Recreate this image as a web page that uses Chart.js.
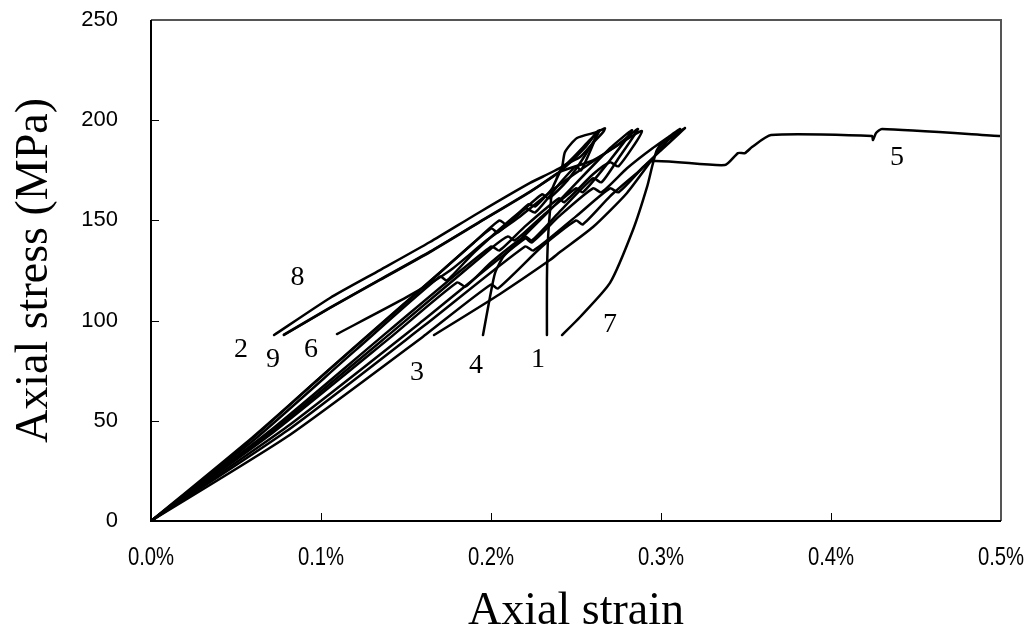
<!DOCTYPE html>
<html>
<head>
<meta charset="utf-8">
<script src="https://cdn.jsdelivr.net/npm/chart.js@4.4.1/dist/chart.umd.min.js"></script>
<style>
  html, body { margin: 0; padding: 0; background: #fff; }
  #wrap { width: 1033px; height: 636px; position: relative; }
</style>
</head>
<body>
<div id="wrap"><canvas id="chart"></canvas></div>
<script>
// axial strain (%) / axial stress (MPa) per specimen, loading branch then post-peak branch
const s1Strain = [0, 0.05, 0.10, 0.15, 0.19, 0.205, 0.209, 0.222, 0.226, 0.236, 0.2418, 0.2524, 0.26, 0.266, 0.267, 0.2624, 0.2506, 0.2435, 0.2418, 0.2365, 0.2353, 0.2335, 0.2329, 0.2329];
const s1Stress = [0, 34, 72, 109, 139, 150, 148, 158, 157, 166, 176.6, 181.6, 188.6, 194.1, 196, 194.1, 191.1, 184.1, 176.6, 166.7, 160.2, 140.2, 120.3, 92.8];

const s2Strain = [0, 0.06, 0.12, 0.17, 0.174, 0.19, 0.22, 0.226, 0.24, 0.25, 0.253, 0.263, 0.255, 0.2406, 0.223, 0.1935, 0.1641, 0.1347, 0.1053, 0.0782];
const s2Stress = [0, 40, 85, 122, 120, 134, 156, 154, 168, 177, 175, 194.6, 186, 174.4, 164.4, 149.4, 134.4, 120.5, 106.5, 93];

const s3Strain = [0, 0.08, 0.16, 0.22, 0.225, 0.25, 0.27, 0.275, 0.29, 0.3, 0.3141, 0.304, 0.2976, 0.28, 0.26, 0.2406, 0.2347, 0.2053, 0.1665];
const s3Stress = [0, 45, 97, 137, 135, 152, 166, 164, 177, 185, 196.1, 190, 183.6, 163.7, 146.7, 134.2, 130.2, 113.3, 92.8];

const s4Strain = [0, 0.07, 0.14, 0.2, 0.21, 0.214, 0.23, 0.25, 0.254, 0.27, 0.283, 0.27, 0.2406, 0.2229, 0.2153, 0.2071, 0.2024, 0.1994, 0.1953];
const s4Stress = [0, 44, 93, 136, 142, 140, 152, 166, 164, 180, 195, 186, 160.2, 145.2, 138.7, 131.7, 123.8, 111.8, 92.8];

const s5Strain = [0, 0.08, 0.16, 0.2, 0.204, 0.23, 0.25, 0.254, 0.27, 0.285, 0.2947, 0.3376, 0.3453, 0.3494, 0.3535, 0.3647, 0.4241, 0.4247, 0.4265, 0.43, 0.5];
const s5Stress = [0, 42, 92, 118, 116, 137, 150, 148, 162, 173, 179.6, 177.6, 183.6, 183.6, 186.6, 192.6, 192.1, 190.1, 193.6, 195.6, 192.1];

const s6Strain = [0, 0.07, 0.14, 0.2, 0.205, 0.22, 0.24, 0.243, 0.26, 0.27, 0.275, 0.2888, 0.27, 0.2406, 0.2171, 0.1976, 0.1759, 0.1506, 0.1094];
const s6Stress = [0, 45, 95, 137, 135, 147, 161, 159, 173, 179, 177, 194.6, 185, 168, 152, 140.2, 125, 111.8, 93.3];

const s7Strain = [0, 0.08, 0.16, 0.22, 0.224, 0.24, 0.26, 0.265, 0.28, 0.295, 0.3112, 0.305, 0.2976, 0.2918, 0.2835, 0.27, 0.2524, 0.2418];
const s7Stress = [0, 47, 100, 141, 139, 152, 166, 164, 176, 186, 195.6, 192, 185.1, 166.7, 145.2, 118.8, 101.8, 92.8];

const s8Strain = [0, 0.06, 0.12, 0.17, 0.2, 0.204, 0.215, 0.23, 0.234, 0.245, 0.255, 0.264, 0.258, 0.2435, 0.223, 0.1935, 0.1641, 0.1347, 0.1053, 0.0724];
const s8Stress = [0, 42, 87, 124, 146, 144, 152, 163, 161, 170, 182, 195, 190, 177.6, 168.7, 154.2, 139.2, 125.2, 111.3, 92.8];

const s9Strain = [0, 0.07, 0.14, 0.18, 0.185, 0.2, 0.22, 0.224, 0.24, 0.26, 0.265, 0.275, 0.2865, 0.275, 0.26, 0.2406, 0.223, 0.1935, 0.1641, 0.1347, 0.1053, 0.0782];
const s9Stress = [0, 43, 91, 119, 117, 129, 142, 140, 154, 171, 169, 181, 195.6, 188, 180, 174.2, 164.2, 149.2, 134.2, 120.3, 106.3, 92.8];

const xTicks = [0, 0.1, 0.2, 0.3, 0.4, 0.5];
const yTicks = [0, 50, 100, 150, 200, 250];

// curve numbers written on the plot
const curveNames = ['1', '2', '3', '4', '5', '6', '7', '8', '9'];
const nameStrain = [0.2276, 0.0529, 0.1565, 0.1912, 0.4388, 0.0941, 0.2700, 0.0862, 0.0718];
const nameStress = [80.3, 85.3, 73.9, 77.3, 181.1, 85.3, 97.8, 121.2, 80.3];

const specimens = [
  [s1Strain, s1Stress], [s2Strain, s2Stress], [s3Strain, s3Stress],
  [s4Strain, s4Stress], [s5Strain, s5Stress], [s6Strain, s6Stress],
  [s7Strain, s7Stress], [s8Strain, s8Stress], [s9Strain, s9Stress]
];

function toPoints(strain, stress) {
  return strain.map((s, i) => ({ x: s, y: stress[i] }));
}

// frame, inward ticks, narrow x labels and curve numbers
const plotDecor = {
  id: 'plotDecor',
  afterDraw(chart) {
    const { ctx, chartArea: a, scales: { x, y } } = chart;
    ctx.save();

    ctx.strokeStyle = '#000';
    ctx.lineWidth = 1;
    yTicks.forEach(v => {
      const py = Math.round(y.getPixelForValue(v)) + 0.5;
      ctx.beginPath();
      ctx.moveTo(a.left, py);
      ctx.lineTo(a.left + 8, py);
      ctx.stroke();
    });
    xTicks.forEach(v => {
      const px = Math.round(x.getPixelForValue(v)) + 0.5;
      ctx.beginPath();
      ctx.moveTo(px, a.bottom);
      ctx.lineTo(px, a.bottom - 8);
      ctx.stroke();
    });

    ctx.strokeStyle = '#555';
    ctx.lineWidth = 2;
    ctx.beginPath();
    ctx.moveTo(a.left, a.top);
    ctx.lineTo(a.right, a.top);
    ctx.lineTo(a.right, a.bottom);
    ctx.stroke();
    ctx.strokeStyle = '#000';
    ctx.beginPath();
    ctx.moveTo(a.left, a.top);
    ctx.lineTo(a.left, a.bottom);
    ctx.lineTo(a.right, a.bottom);
    ctx.stroke();

    ctx.fillStyle = '#000';
    ctx.textAlign = 'center';
    ctx.textBaseline = 'middle';
    ctx.font = '26px "Liberation Sans", Arial, sans-serif';
    xTicks.forEach(v => {
      ctx.save();
      ctx.translate(x.getPixelForValue(v), a.bottom + 37);
      ctx.scale(0.78, 1);
      ctx.fillText(v.toFixed(1) + '%', 0, 0);
      ctx.restore();
    });

    ctx.font = '28px "Liberation Serif", "Times New Roman", serif';
    curveNames.forEach((t, i) => {
      ctx.fillText(t, x.getPixelForValue(nameStrain[i]), y.getPixelForValue(nameStress[i]));
    });
    ctx.restore();
  }
};

new Chart(document.getElementById('chart'), {
  type: 'scatter',
  data: {
    datasets: specimens.map((sp, i) => ({
      label: curveNames[i],
      data: toPoints(sp[0], sp[1]),
      showLine: true,
      borderColor: '#000',
      backgroundColor: '#000',
      borderWidth: 2.5,
      borderJoinStyle: 'round',
      borderCapStyle: 'round',
      pointRadius: 0,
      tension: 0.2
    }))
  },
  options: {
    responsive: true,
    maintainAspectRatio: false,
    animation: false,
    layout: { padding: { left: 0, right: 32, top: 20, bottom: 0 } },
    plugins: { legend: { display: false }, tooltip: { enabled: false } },
    scales: {
      x: {
        type: 'linear',
        min: 0,
        max: 0.5,
        grid: { display: false, drawTicks: false },
        border: { display: false },
        ticks: {
          stepSize: 0.1,
          color: 'rgba(0,0,0,0)',
          font: { size: 20 },
          callback: v => v.toFixed(1) + '%'
        },
        title: {
          display: true,
          text: 'Axial strain',
          color: '#000',
          font: { family: '"Liberation Serif", "Times New Roman", serif', size: 46, lineHeight: 1.05 },
          padding: { top: 0, bottom: 0 }
        },
        afterFit: s => { s.height = 115; }
      },
      y: {
        min: 0,
        max: 250,
        grid: { display: false, drawTicks: false },
        border: { display: false },
        ticks: {
          stepSize: 50,
          color: '#000',
          padding: 33,
          font: { family: '"Liberation Sans", Arial, sans-serif', size: 22 }
        },
        title: {
          display: true,
          text: 'Axial stress (MPa)',
          color: '#000',
          font: { family: '"Liberation Serif", "Times New Roman", serif', size: 46, lineHeight: 1.05 },
          padding: { top: 11, bottom: 0 }
        },
        afterFit: s => {
          s.width = 151;
          s.paddingTop = 12;
          s.paddingBottom = 12;
        }
      }
    }
  },
  plugins: [plotDecor]
});
</script>
</body>
</html>
